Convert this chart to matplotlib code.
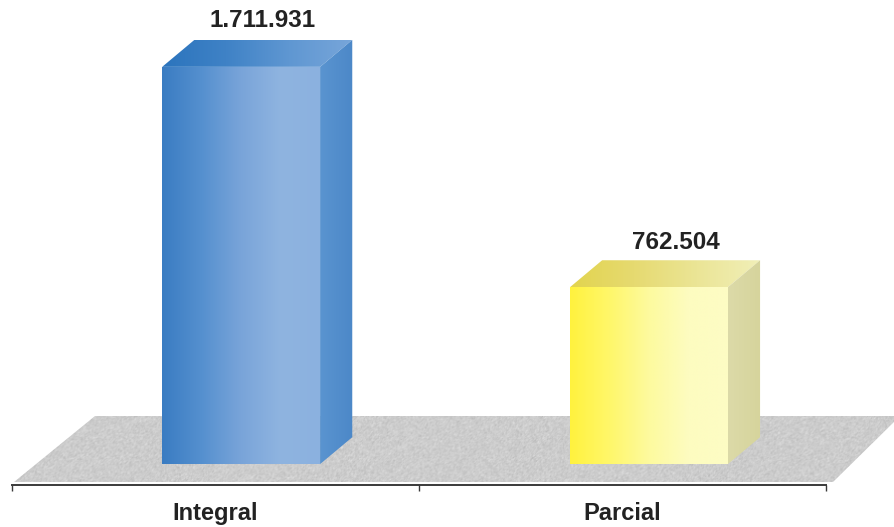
import numpy as np
import matplotlib
matplotlib.use("Agg")
import matplotlib.pyplot as plt
from matplotlib.colors import LinearSegmentedColormap
from matplotlib.patches import Polygon

plt.rcParams['font.family'] = ['Liberation Sans', 'DejaVu Sans']

# Chart data
categories = ['Integral', 'Parcial']
values = [1711931, 762504]
value_labels = ['1.711.931', '762.504']

# Gradient colours per bar: front, top and side faces
front_colors = [['#3a7cc2', '#5590cf', '#79a4d9', '#8fb4e0', '#8bb1df'],
                ['#fff23e', '#fff76a', '#fdfa9e', '#fdfcc0', '#fdfcc4']]
top_colors = [['#2b74bd', '#3f82c6', '#5f97d2', '#78a6da'],
              ['#e2d44e', '#e6da70', '#ebe596', '#f1efb8']]
side_colors = [['#5a94d0', '#4c88c8'], ['#dcdaa8', '#d6d49c']]

BAR_WIDTH = 0.388
DEPTH_X = 0.079
DEPTH_Y = 116000
bar_left = [0.369, 1.371]
# Value label placement relative to the back edge of each bar
label_dx = [0.012, 0.027]
label_dy = [84000, 76000]


def gradient_face(ax, corners, colors, extent):
    # Horizontal gradient clipped to a polygon in data coordinates
    cmap = LinearSegmentedColormap.from_list('face', colors)
    ramp = np.linspace(0, 1, 256).reshape(1, -1)
    img = ax.imshow(ramp, cmap=cmap, extent=extent, aspect='auto', origin='lower',
                    interpolation='bilinear', zorder=3)
    patch = Polygon(corners, closed=True, transform=ax.transData, fc='none', ec='none')
    ax.add_patch(patch)
    img.set_clip_path(patch)


def draw_bar(ax, left, value, front, top, side):
    right = left + BAR_WIDTH
    gradient_face(ax, [(left, 0), (right, 0), (right, value), (left, value)], front,
                  (left, right, 0, value))
    gradient_face(ax, [(left, value), (right, value), (right + DEPTH_X, value + DEPTH_Y),
                       (left + DEPTH_X, value + DEPTH_Y)], top,
                  (left, right + DEPTH_X, value, value + DEPTH_Y))
    gradient_face(ax, [(right, 0), (right + DEPTH_X, DEPTH_Y), (right + DEPTH_X, value + DEPTH_Y),
                       (right, value)], side,
                  (right, right + DEPTH_X, 0, value + DEPTH_Y))


fig = plt.figure(figsize=(8.95, 5.27), dpi=100)

# Grainy grey floor on its own full-figure axes, in pixel coordinates
floor_ax = fig.add_axes([0, 0, 1, 1])
floor_ax.set_axis_off()
rng = np.random.default_rng(4)
grain = rng.normal(0, 1, (70, 900))
grain = (grain + np.roll(grain, 1, axis=1) + np.roll(grain, 1, axis=0)) / 3
floor_img = floor_ax.imshow(np.clip(0.80 + 0.035 * grain, 0, 1), cmap='gray', vmin=0, vmax=1,
                            extent=(0, 895, 482, 415), aspect='auto', interpolation='bilinear')
floor = Polygon([(14, 482), (95, 416), (895, 416), (895, 421), (833, 482)],
                closed=True, transform=floor_ax.transData, fc='none', ec='none')
floor_ax.add_patch(floor)
floor_img.set_clip_path(floor)
floor_ax.set_xlim(0, 895)
floor_ax.set_ylim(527, 0)

ax = fig.add_axes([12 / 895, 42 / 527, 814 / 895, 485 / 527])

for i, value in enumerate(values):
    draw_bar(ax, bar_left[i], value, front_colors[i], top_colors[i], side_colors[i])
    ax.text(bar_left[i] + (BAR_WIDTH + DEPTH_X) / 2 + label_dx[i], value + DEPTH_Y + label_dy[i],
            value_labels[i], ha='center', va='center', fontsize=17.5, fontweight='bold',
            color='#222222', zorder=5)

ax.set_xlim(0, 2)
ax.set_ylim(-90000, 2000000)

# Axis line with ticks between the categories and labels centred on each bar group
for name in ['top', 'left', 'right']:
    ax.spines[name].set_visible(False)
ax.spines['bottom'].set_linewidth(1.4)
ax.spines['bottom'].set_color('#3a3a3a')
ax.set_yticks([])
ax.set_xticks([0, 1, 2])
ax.set_xticklabels([])
ax.tick_params(axis='x', which='major', length=4.5, width=1, color='#3a3a3a')
ax.set_xticks([0.5, 1.5], minor=True)
ax.set_xticklabels(categories, minor=True, fontsize=17, fontweight='bold', color='#222222')
ax.tick_params(axis='x', which='minor', length=0, pad=12)
ax.patch.set_alpha(0)

fig.savefig('out.png', dpi=100)
